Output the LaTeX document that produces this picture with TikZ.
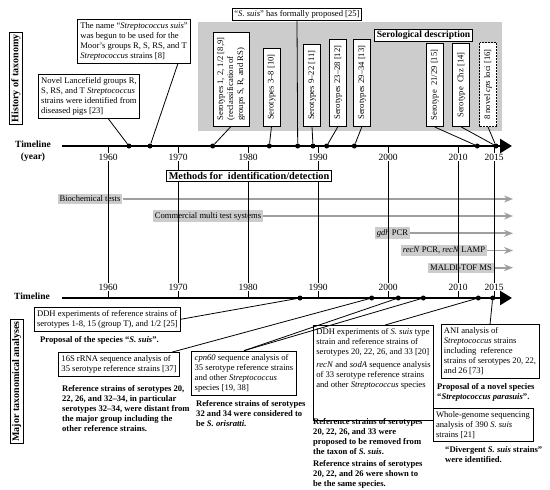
\documentclass[tikz,border=0pt]{standalone}
\usepackage{fontspec}
\setmainfont{Liberation Serif}
\usetikzlibrary{arrows.meta,positioning,calc}

\begin{document}
\begin{tikzpicture}[x=1pt,y=-1pt,font=\fontsize{8.6}{10}\selectfont]
  \tikzstyle{box}=[draw,fill=white,align=left,inner sep=3pt,line width=0.8pt]
  \tikzstyle{sero}=[box,rotate=90,anchor=west,align=left,minimum height=17pt,inner sep=2pt]
  \tikzstyle{dot}=[circle,fill=black,inner sep=0pt,minimum size=5pt]
  \tikzstyle{heading}=[draw,fill=white,line width=0.8pt,inner sep=2pt,font=\fontsize{10}{11}\selectfont\bfseries]
  \tikzstyle{note}=[align=left,anchor=north west,inner sep=0pt,font=\fontsize{8.6}{10}\selectfont\bfseries]
  \tikzstyle{method}=[fill=gray!40,inner sep=2pt]
  \tikzstyle{year}=[inner sep=1pt,font=\fontsize{9.5}{10}\selectfont]
  \tikzstyle{timeline}=[line width=2.5pt,-{Triangle[length=12pt,width=14pt]}]
  \tikzstyle{trend}=[gray!75,line width=1.8pt,-{Stealth[length=9pt,width=7pt]}]
  \tikzstyle{link}=[line width=0.8pt]

  \useasboundingbox (0,0) rectangle (550,490);

  % history of taxonomy
  \fill[gray!40] (198,22) rectangle (502,131);
  \node[heading,rotate=90] (history) at (16,78.5) {History of taxonomy};
  \node[box] (lance) at (89,96) {Novel Lancefield groups R,\\ S, RS, and T \textit{Streptococcus}\\ strains were identified from\\ diseased pigs [23]};
  \node[box] (name) at (134,41) {The name “\textit{Streptococcus suis}”\\ was begun to be used for the\\ Moor’s groups R, S, RS, and T\\ \textit{Streptococcus} strains [8]};
  \node[box,inner sep=2pt] (formal) at (297,14) {“\textit{S. suis}” has formally proposed [25]};
  \node[heading,font=\fontsize{9.6}{10}\selectfont\bfseries] (serol) at (423.5,35.3) {Serological description};

  \node[sero,minimum width=94pt,minimum height=36pt] (s1) at (231,126.5) {Serotypes 1, 2, 1/2 [8,9]\\(reclassification of\\groups S, R, and RS)};
  \node[sero,minimum width=78pt] (s2) at (271.5,126.5) {Serotypes 3--8 [10]};
  \node[sero,minimum width=82pt] (s3) at (312,126.5) {Serotypes 9--22 [11]};
  \node[sero,minimum width=87pt] (s4) at (338,126.5) {Serotypes 23--28 [12]};
  \node[sero,minimum width=87pt] (s5) at (362,126.5) {Serotypes 29--34 [13]};
  \node[sero,minimum width=83pt] (s6) at (434.7,127) {Serotype~ 21/29 [15]};
  \node[sero,minimum width=83pt] (s7) at (461.3,127) {Serotype~ Chz [14]};
  \node[sero,minimum width=84pt,dash pattern=on 2pt off 1pt] (s8) at (488,127) {8 novel \textit{cps} loci [16]};

  \coordinate (top0) at (62,146);
  \coordinate (top1) at (512,146);
  \draw[timeline] (top0) -- (top1);
  \node[align=center,font=\fontsize{9.5}{11.5}\selectfont\bfseries] (tl1) at (33,151) {Timeline\\(year)};

  \node[dot] (h63) at (129,146) {};
  \node[dot] (h66) at (150,146) {};
  \node[dot] (h75) at (212.7,146) {};
  \node[dot] (h83) at (269.3,146) {};
  \node[dot] (h87) at (297.7,146) {};
  \node[dot] (h89) at (313,146) {};
  \node[dot] (h91) at (326.7,146) {};
  \node[dot] (h95) at (354.3,146) {};
  \node[dot] (h12) at (477.3,146) {};
  \node[dot] (h15) at (496,146) {};

  \draw[link] ($(lance.south)+(19,0)$) -- (h63);
  \draw[link] ($(name.south)+(44,0)$) -- (h66);
  \draw[link] (s1.west) -- (h75);
  \draw[link] (s2.west) -- (h83);
  \draw[link] (formal.south) -- (h87);
  \draw[link] (s3.west) -- (h89);
  \draw[link] (s4.west) -- (h91);
  \draw[link] (s5.west) -- (h95);
  \draw[link] (s6.west) -- (h12);
  \draw[link] (s7.west) -- (h15);
  \draw[link] (s8.west) -- (h15);

  % methods
  \coordinate (mend) at (513,0);
  \node[method] (bio) at (90,199) {Biochemical tests};
  \node[method] (multi) at (208,216) {Commercial multi test systems};
  \node[method] (gdh) at (392.5,233.3) {\textit{gdh} PCR};
  \node[method] (recn) at (444,250.5) {\textit{recN} PCR, \textit{recN} LAMP};
  \node[method] (maldi) at (461,267.7) {MALDI-TOF MS};
  \foreach \m in {bio,multi,gdh,recn,maldi}
    \draw[trend] (\m.east) -- (\m.east -| mend);

  \coordinate (bot0) at (62,298);
  \coordinate (bot1) at (512,298);
  \foreach \yr/\px in {1960/108,1970/178,1980/248,1990/318,2000/388,2010/458,2015/494}{
    \node[year] (ty\yr) at (\px,157) {\yr};
    \node[year] (by\yr) at (\px,287) {\yr};
    \draw[link] (ty\yr.north) -- (ty\yr.north |- top0);
    \draw[link] (by\yr.south) -- (by\yr.south |- bot0);
    \draw (ty\yr.south) -- (by\yr.north);
  }
  \node[heading,font=\fontsize{10.3}{11}\selectfont\bfseries] (methods) at (249,175.7) {Methods for~ identification/detection};

  % taxonomical analyses
  \draw[timeline] (bot0) -- (bot1);
  \node[font=\fontsize{9.5}{11}\selectfont\bfseries] (tl2) at (32,296) {Timeline};
  \node[heading,rotate=90] (major) at (16.7,381.5) {Major taxonomical analyses};

  \node[dot] (b87) at (300,298) {};
  \node[dot] (b97) at (371.7,298) {};
  \node[dot] (b01) at (398.3,298) {};
  \node[dot] (b05) at (423.3,298) {};
  \node[dot] (b13) at (478.3,298) {};
  \node[dot] (b15) at (492.7,298) {};

  \node[box] (ddh) at (107.4,319.2) {DDH experiments of reference strains of\\ serotypes 1-8, 15 (group T), and 1/2 [25]};
  \node[note] (n1) at (40,336) {Proposal of the species “\textit{S. suis}”.};
  \node[box] (rrna) at (119,364.5) {16S rRNA sequence analysis of\\ 35 serotype reference strains [37]};
  \node[note] (n2) at (62,385) {Reference strains of serotypes 20,\\ 22, 26, and 32--34, in particular\\ serotypes 32--34, were distant from\\ the major group including the\\ other reference strains.};
  \node[box] (cpn) at (244,373) {\textit{cpn60} sequence analysis of\\ 35 serotype reference strains\\ and other \textit{Streptococcus}\\ species [19, 38]};
  \node[note] (n3) at (196,400) {Reference strains of serotypes\\ 32 and 34 were considered to\\ be \textit{S. orisratti}.};
  \node[box] (ddh2) at (373.5,373) {DDH experiments of \textit{S. suis} type\\ strain and reference strains of\\ serotypes 20, 22, 26, and 33 [20]\\[3pt] \textit{recN} and \textit{sodA} sequence analysis\\ of 33 serotype reference strains\\ and other \textit{Streptococcus} species\\ [20]};
  \node[note] (n4) at (313,418) {Reference strains of serotypes\\ 20, 22, 26, and 33 were\\ proposed to be removed from\\ the taxon of \textit{S. suis}.\\[2pt] Reference strains of serotypes\\ 20, 22, and 26 were shown to\\ be the same species.};
  \node[box] (ani) at (490,351.5) {ANI analysis of\\ \textit{Streptococcus} strains\\ including~ reference\\ strains of serotypes 20, 22,\\ and 26 [73]};
  \node[note] (n5) at (437,383) {Proposal of a novel species\\ “\textit{Streptococcus parasuis}”.};
  \node[box] (wgs) at (483,425) {Whole-genome sequencing\\ analysis of 390 \textit{S. suis}\\ strains [21]};
  \node[note] (n6) at (445,446) {“Divergent \textit{S. suis} strains”\\ were identified.};

  \draw[link] (ddh.east) -- (b87);
  \draw[link] ($(rrna.north east)+(-8,0)$) -- (b97);
  \draw[link] (cpn.north) -- (b01);
  \draw[link] (cpn.north) -- (b05);
  \draw[link] ($(ddh2.north)+(11.5,0)$) -- (b13);
  \draw[link] (ani.north) -- (b15);
\end{tikzpicture}
\end{document}
